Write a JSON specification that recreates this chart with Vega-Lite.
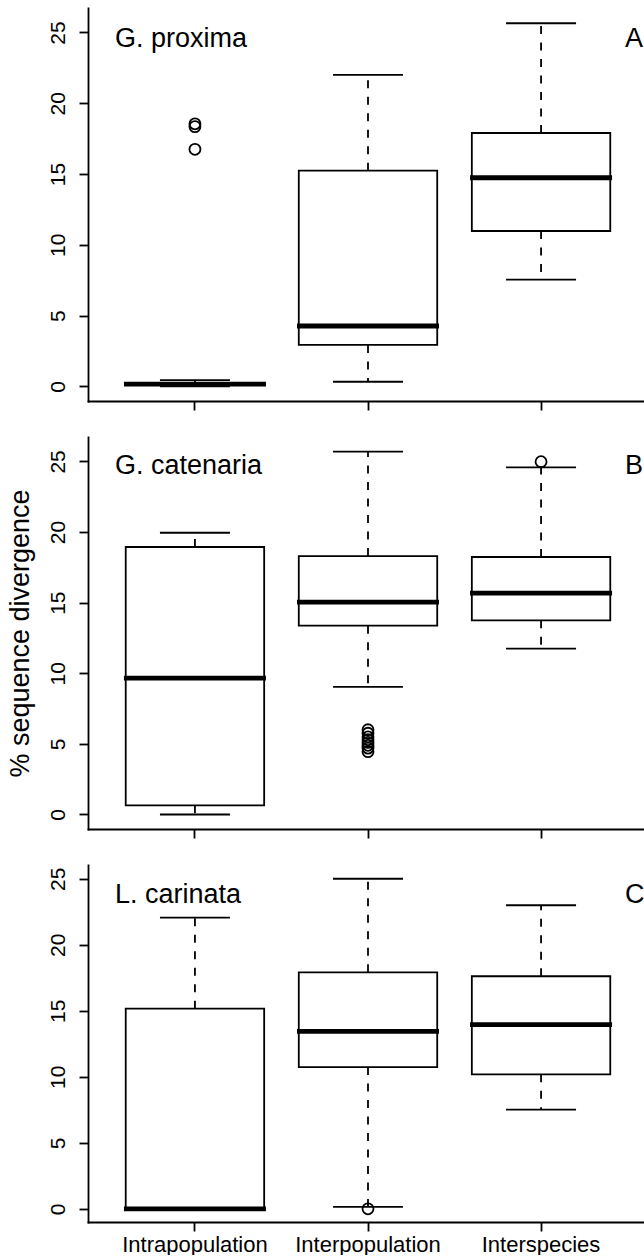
{
  "$schema": "https://vega.github.io/schema/vega-lite/v6.json",
  "padding": {"left": 5, "top": 8, "right": 0, "bottom": 0},
  "spacing": 26,
  "datasets": {
    "boxes": [
      {"panel": "A", "group": "Intrapopulation", "lo": 0.0, "q1": 0.1, "med": 0.16, "q3": 0.25, "hi": 0.45},
      {"panel": "A", "group": "Interpopulation", "lo": 0.33, "q1": 2.93, "med": 4.27, "q3": 15.24, "hi": 22.0},
      {"panel": "A", "group": "Interspecies", "lo": 7.54, "q1": 10.98, "med": 14.74, "q3": 17.9, "hi": 25.65},
      {"panel": "B", "group": "Intrapopulation", "lo": 0.0, "q1": 0.65, "med": 9.66, "q3": 18.94, "hi": 19.95},
      {"panel": "B", "group": "Interpopulation", "lo": 9.03, "q1": 13.37, "med": 15.03, "q3": 18.3, "hi": 25.69},
      {"panel": "B", "group": "Interspecies", "lo": 11.74, "q1": 13.75, "med": 15.68, "q3": 18.23, "hi": 24.58},
      {"panel": "C", "group": "Intrapopulation", "lo": 0.0, "q1": 0.0, "med": 0.0, "q3": 15.16, "hi": 22.06},
      {"panel": "C", "group": "Interpopulation", "lo": 0.14, "q1": 10.74, "med": 13.45, "q3": 17.92, "hi": 25.01},
      {"panel": "C", "group": "Interspecies", "lo": 7.51, "q1": 10.19, "med": 13.95, "q3": 17.62, "hi": 23.0}
    ],
    "outliers": [
      {"panel": "A", "group": "Intrapopulation", "value": 18.35},
      {"panel": "A", "group": "Intrapopulation", "value": 18.55},
      {"panel": "A", "group": "Intrapopulation", "value": 16.75},
      {"panel": "B", "group": "Interpopulation", "value": 6.0},
      {"panel": "B", "group": "Interpopulation", "value": 5.75},
      {"panel": "B", "group": "Interpopulation", "value": 5.5},
      {"panel": "B", "group": "Interpopulation", "value": 5.3},
      {"panel": "B", "group": "Interpopulation", "value": 5.1},
      {"panel": "B", "group": "Interpopulation", "value": 4.9},
      {"panel": "B", "group": "Interpopulation", "value": 4.7},
      {"panel": "B", "group": "Interpopulation", "value": 4.45},
      {"panel": "B", "group": "Interspecies", "value": 24.98},
      {"panel": "C", "group": "Interpopulation", "value": 0.0}
    ]
  },
  "vconcat": [
    {
      "width": 560,
      "height": 393,
      "encoding": {
        "x": {"field": "group", "type": "nominal", "title": null,
          "scale": {"type": "band", "domain": ["Intrapopulation", "Interpopulation", "Interspecies"], "paddingInner": 0.2, "paddingOuter": 0.218},
          "axis": {"labels": false, "title": null}}
      },
      "layer": [
        {"data": {"name": "boxes"}, "transform": [{"filter": "datum.panel == 'A'"}],
          "mark": {"type": "rule", "strokeDash": [8, 8.5], "strokeWidth": 1.8, "color": "black"},
          "encoding": {"y": {"field": "q3", "type": "quantitative", "title": null, "scale": {"domain": [-1.028, 26.728], "nice": false, "zero": false},
            "axis": {"values": [0, 5, 10, 15, 20, 25], "labelAngle": 270, "labelAlign": "center", "labelBaseline": "alphabetic", "labelPadding": 15, "title": null}},
            "y2": {"field": "hi"}}},
        {"data": {"name": "boxes"}, "transform": [{"filter": "datum.panel == 'A'"}],
          "mark": {"type": "rule", "strokeDash": [8, 8.5], "strokeWidth": 1.8, "color": "black"},
          "encoding": {"y": {"field": "q1", "type": "quantitative", "title": null, "scale": {"domain": [-1.028, 26.728], "nice": false, "zero": false}},
            "y2": {"field": "lo"}}},
        {"data": {"name": "boxes"}, "transform": [{"filter": "datum.panel == 'A'"}],
          "mark": {"type": "tick", "size": 70, "thickness": 1.8, "color": "black", "opacity": 1},
          "encoding": {"y": {"field": "hi", "type": "quantitative", "title": null, "scale": {"domain": [-1.028, 26.728], "nice": false, "zero": false}}}},
        {"data": {"name": "boxes"}, "transform": [{"filter": "datum.panel == 'A'"}],
          "mark": {"type": "tick", "size": 70, "thickness": 1.8, "color": "black", "opacity": 1},
          "encoding": {"y": {"field": "lo", "type": "quantitative", "title": null, "scale": {"domain": [-1.028, 26.728], "nice": false, "zero": false}}}},
        {"data": {"name": "boxes"}, "transform": [{"filter": "datum.panel == 'A'"}],
          "mark": {"type": "bar", "fill": "white", "stroke": "black", "strokeWidth": 1.8},
          "encoding": {"y": {"field": "q1", "type": "quantitative", "title": null, "scale": {"domain": [-1.028, 26.728], "nice": false, "zero": false}},
            "y2": {"field": "q3"}}},
        {"data": {"name": "boxes"}, "transform": [{"filter": "datum.panel == 'A'"}],
          "mark": {"type": "tick", "size": 142, "thickness": 4.8, "color": "black", "opacity": 1},
          "encoding": {"y": {"field": "med", "type": "quantitative", "title": null, "scale": {"domain": [-1.028, 26.728], "nice": false, "zero": false}}}},
        {"data": {"name": "outliers"}, "transform": [{"filter": "datum.panel == 'A'"}],
          "mark": {"type": "point", "shape": "circle", "filled": false, "size": 121, "strokeWidth": 1.8, "color": "black", "opacity": 1},
          "encoding": {"y": {"field": "value", "type": "quantitative", "title": null, "scale": {"domain": [-1.028, 26.728], "nice": false, "zero": false}}}},
        {"data": {"values": [{"group": "Intrapopulation", "label": "G. proxima"}]},
          "mark": {"type": "text", "align": "left", "baseline": "alphabetic", "dx": -80, "fontSize": 27, "color": "black"},
          "encoding": {"y": {"datum": 24, "type": "quantitative", "scale": {"domain": [-1.028, 26.728], "nice": false, "zero": false}}, "text": {"field": "label"}}},
        {"data": {"values": [{"group": "Interspecies", "label": "A"}]},
          "mark": {"type": "text", "align": "left", "baseline": "alphabetic", "dx": 84, "fontSize": 27, "color": "black"},
          "encoding": {"y": {"datum": 24, "type": "quantitative", "scale": {"domain": [-1.028, 26.728], "nice": false, "zero": false}}, "text": {"field": "label"}}}
      ]
    },
    {
      "width": 560,
      "height": 392,
      "encoding": {
        "x": {"field": "group", "type": "nominal", "title": null,
          "scale": {"type": "band", "domain": ["Intrapopulation", "Interpopulation", "Interspecies"], "paddingInner": 0.2, "paddingOuter": 0.218},
          "axis": {"labels": false, "title": null}}
      },
      "layer": [
        {"data": {"name": "boxes"}, "transform": [{"filter": "datum.panel == 'B'"}],
          "mark": {"type": "rule", "strokeDash": [8, 8.5], "strokeWidth": 1.8, "color": "black"},
          "encoding": {"y": {"field": "q3", "type": "quantitative", "title": "% sequence divergence", "scale": {"domain": [-1.028, 26.728], "nice": false, "zero": false},
            "axis": {"values": [0, 5, 10, 15, 20, 25], "labelAngle": 270, "labelAlign": "center", "labelBaseline": "alphabetic", "labelPadding": 15, "title": "% sequence divergence", "titlePadding": 13}},
            "y2": {"field": "hi"}}},
        {"data": {"name": "boxes"}, "transform": [{"filter": "datum.panel == 'B'"}],
          "mark": {"type": "rule", "strokeDash": [8, 8.5], "strokeWidth": 1.8, "color": "black"},
          "encoding": {"y": {"field": "q1", "type": "quantitative", "title": "% sequence divergence", "scale": {"domain": [-1.028, 26.728], "nice": false, "zero": false}},
            "y2": {"field": "lo"}}},
        {"data": {"name": "boxes"}, "transform": [{"filter": "datum.panel == 'B'"}],
          "mark": {"type": "tick", "size": 70, "thickness": 1.8, "color": "black", "opacity": 1},
          "encoding": {"y": {"field": "hi", "type": "quantitative", "title": "% sequence divergence", "scale": {"domain": [-1.028, 26.728], "nice": false, "zero": false}}}},
        {"data": {"name": "boxes"}, "transform": [{"filter": "datum.panel == 'B'"}],
          "mark": {"type": "tick", "size": 70, "thickness": 1.8, "color": "black", "opacity": 1},
          "encoding": {"y": {"field": "lo", "type": "quantitative", "title": "% sequence divergence", "scale": {"domain": [-1.028, 26.728], "nice": false, "zero": false}}}},
        {"data": {"name": "boxes"}, "transform": [{"filter": "datum.panel == 'B'"}],
          "mark": {"type": "bar", "fill": "white", "stroke": "black", "strokeWidth": 1.8},
          "encoding": {"y": {"field": "q1", "type": "quantitative", "title": "% sequence divergence", "scale": {"domain": [-1.028, 26.728], "nice": false, "zero": false}},
            "y2": {"field": "q3"}}},
        {"data": {"name": "boxes"}, "transform": [{"filter": "datum.panel == 'B'"}],
          "mark": {"type": "tick", "size": 142, "thickness": 4.8, "color": "black", "opacity": 1},
          "encoding": {"y": {"field": "med", "type": "quantitative", "title": "% sequence divergence", "scale": {"domain": [-1.028, 26.728], "nice": false, "zero": false}}}},
        {"data": {"name": "outliers"}, "transform": [{"filter": "datum.panel == 'B'"}],
          "mark": {"type": "point", "shape": "circle", "filled": false, "size": 121, "strokeWidth": 1.8, "color": "black", "opacity": 1},
          "encoding": {"y": {"field": "value", "type": "quantitative", "title": "% sequence divergence", "scale": {"domain": [-1.028, 26.728], "nice": false, "zero": false}}}},
        {"data": {"values": [{"group": "Intrapopulation", "label": "G. catenaria"}]},
          "mark": {"type": "text", "align": "left", "baseline": "alphabetic", "dx": -80, "fontSize": 27, "color": "black"},
          "encoding": {"y": {"datum": 24.1, "type": "quantitative", "title": "% sequence divergence", "scale": {"domain": [-1.028, 26.728], "nice": false, "zero": false}}, "text": {"field": "label"}}},
        {"data": {"values": [{"group": "Interspecies", "label": "B"}]},
          "mark": {"type": "text", "align": "left", "baseline": "alphabetic", "dx": 84, "fontSize": 27, "color": "black"},
          "encoding": {"y": {"datum": 24.1, "type": "quantitative", "title": "% sequence divergence", "scale": {"domain": [-1.028, 26.728], "nice": false, "zero": false}}, "text": {"field": "label"}}}
      ]
    },
    {
      "width": 560,
      "height": 357,
      "encoding": {
        "x": {"field": "group", "type": "nominal", "title": null,
          "scale": {"type": "band", "domain": ["Intrapopulation", "Interpopulation", "Interspecies"], "paddingInner": 0.2, "paddingOuter": 0.218},
          "axis": {"labels": true, "labelAngle": 0, "labelFontSize": 22, "labelPadding": 3, "title": null}}
      },
      "layer": [
        {"data": {"name": "boxes"}, "transform": [{"filter": "datum.panel == 'C'"}],
          "mark": {"type": "rule", "strokeDash": [8, 8.5], "strokeWidth": 1.8, "color": "black"},
          "encoding": {"y": {"field": "q3", "type": "quantitative", "title": null, "scale": {"domain": [-1.0, 26.05], "nice": false, "zero": false},
            "axis": {"values": [0, 5, 10, 15, 20, 25], "labelAngle": 270, "labelAlign": "center", "labelBaseline": "alphabetic", "labelPadding": 15, "title": null}},
            "y2": {"field": "hi"}}},
        {"data": {"name": "boxes"}, "transform": [{"filter": "datum.panel == 'C'"}],
          "mark": {"type": "rule", "strokeDash": [8, 8.5], "strokeWidth": 1.8, "color": "black"},
          "encoding": {"y": {"field": "q1", "type": "quantitative", "title": null, "scale": {"domain": [-1.0, 26.05], "nice": false, "zero": false}},
            "y2": {"field": "lo"}}},
        {"data": {"name": "boxes"}, "transform": [{"filter": "datum.panel == 'C'"}],
          "mark": {"type": "tick", "size": 70, "thickness": 1.8, "color": "black", "opacity": 1},
          "encoding": {"y": {"field": "hi", "type": "quantitative", "title": null, "scale": {"domain": [-1.0, 26.05], "nice": false, "zero": false}}}},
        {"data": {"name": "boxes"}, "transform": [{"filter": "datum.panel == 'C'"}],
          "mark": {"type": "tick", "size": 70, "thickness": 1.8, "color": "black", "opacity": 1},
          "encoding": {"y": {"field": "lo", "type": "quantitative", "title": null, "scale": {"domain": [-1.0, 26.05], "nice": false, "zero": false}}}},
        {"data": {"name": "boxes"}, "transform": [{"filter": "datum.panel == 'C'"}],
          "mark": {"type": "bar", "fill": "white", "stroke": "black", "strokeWidth": 1.8},
          "encoding": {"y": {"field": "q1", "type": "quantitative", "title": null, "scale": {"domain": [-1.0, 26.05], "nice": false, "zero": false}},
            "y2": {"field": "q3"}}},
        {"data": {"name": "boxes"}, "transform": [{"filter": "datum.panel == 'C'"}],
          "mark": {"type": "tick", "size": 142, "thickness": 4.8, "color": "black", "opacity": 1},
          "encoding": {"y": {"field": "med", "type": "quantitative", "title": null, "scale": {"domain": [-1.0, 26.05], "nice": false, "zero": false}}}},
        {"data": {"name": "outliers"}, "transform": [{"filter": "datum.panel == 'C'"}],
          "mark": {"type": "point", "shape": "circle", "filled": false, "size": 121, "strokeWidth": 1.8, "color": "black", "opacity": 1},
          "encoding": {"y": {"field": "value", "type": "quantitative", "title": null, "scale": {"domain": [-1.0, 26.05], "nice": false, "zero": false}}}},
        {"data": {"values": [{"group": "Intrapopulation", "label": "L. carinata"}]},
          "mark": {"type": "text", "align": "left", "baseline": "alphabetic", "dx": -80, "fontSize": 27, "color": "black"},
          "encoding": {"y": {"datum": 23.2, "type": "quantitative", "title": null, "scale": {"domain": [-1.0, 26.05], "nice": false, "zero": false}}, "text": {"field": "label"}}},
        {"data": {"values": [{"group": "Interspecies", "label": "C"}]},
          "mark": {"type": "text", "align": "left", "baseline": "alphabetic", "dx": 84, "fontSize": 27, "color": "black"},
          "encoding": {"y": {"datum": 23.2, "type": "quantitative", "title": null, "scale": {"domain": [-1.0, 26.05], "nice": false, "zero": false}}, "text": {"field": "label"}}}
      ]
    }
  ],
  "config": {
    "font": "Liberation Sans",
    "view": {"stroke": null},
    "axis": {"domainColor": "black", "domainWidth": 1.8, "tickColor": "black", "tickWidth": 1.8, "tickSize": 9, "grid": false,
      "labelColor": "black", "titleColor": "black", "labelFont": "Liberation Sans", "titleFont": "Liberation Sans",
      "labelFontSize": 21, "titleFontSize": 27, "titleFontWeight": "normal", "domainCap": "square"}
  }
}
